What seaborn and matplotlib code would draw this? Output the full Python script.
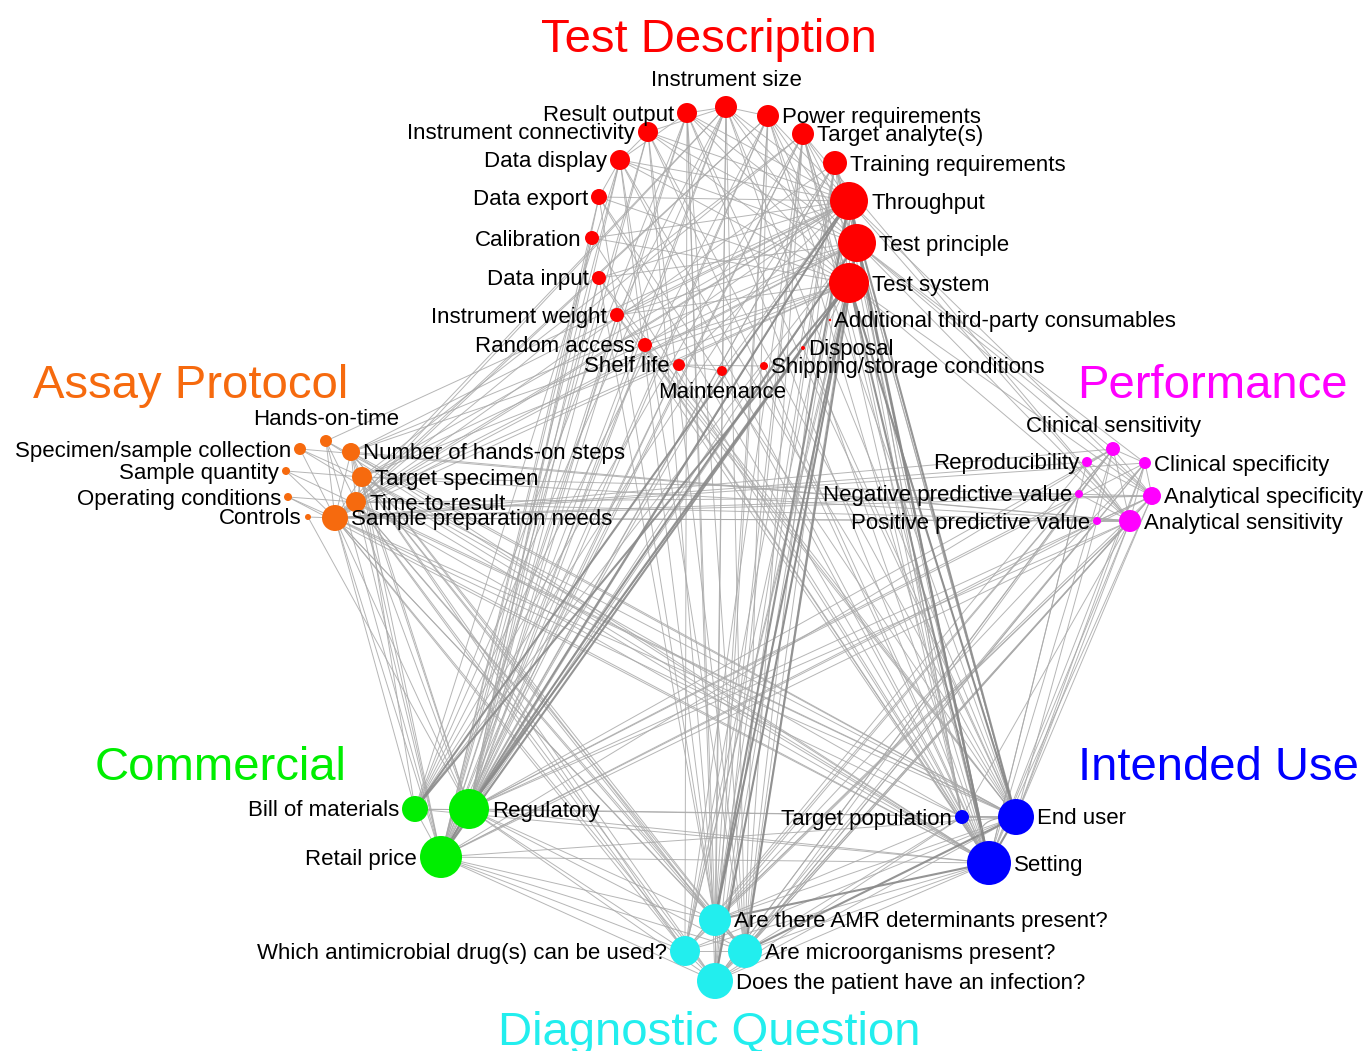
import numpy as np
import pandas as pd
import seaborn as sns
import matplotlib.pyplot as plt
from matplotlib.collections import LineCollection
from matplotlib.patches import FancyArrowPatch

# nodes of the feature network
node_ids = ["isz", "res", "pow", "con", "ana", "dis", "trn", "exp", "thr", "cal",
            "tpr", "inp", "tsy", "wgt", "add", "rnd", "dsp", "shl", "mnt", "shp",
            "hot", "col", "nhs", "sqt", "tsp", "opc", "ttr", "ctl", "spn",
            "csn", "rep", "csp", "npv", "asp", "ppv", "asn",
            "bom", "reg", "rtp",
            "tpo", "eus", "set",
            "amr", "drg", "mic", "inf"]
node_labels = ["Instrument size", "Result output", "Power requirements", "Instrument connectivity",
               "Target analyte(s)", "Data display", "Training requirements", "Data export",
               "Throughput", "Calibration", "Test principle", "Data input", "Test system",
               "Instrument weight", "Additional third-party consumables", "Random access",
               "Disposal", "Shelf life", "Maintenance", "Shipping/storage conditions",
               "Hands-on-time", "Specimen/sample collection", "Number of hands-on steps",
               "Sample quantity", "Target specimen", "Operating conditions", "Time-to-result",
               "Controls", "Sample preparation needs",
               "Clinical sensitivity", "Reproducibility", "Clinical specificity",
               "Negative predictive value", "Analytical specificity", "Positive predictive value",
               "Analytical sensitivity",
               "Bill of materials", "Regulatory", "Retail price",
               "Target population", "End user", "Setting",
               "Are there AMR determinants present?", "Which antimicrobial drug(s) can be used?",
               "Are microorganisms present?", "Does the patient have an infection?"]
node_groups = (["Test Description"] * 20 + ["Assay Protocol"] * 9 + ["Performance"] * 7
               + ["Commercial"] * 3 + ["Intended Use"] * 3 + ["Diagnostic Question"] * 4)

# layout of the network (image coordinates)
layout_x = [726, 687, 768, 648, 803, 620, 835, 599, 849, 592,
            857, 599, 849, 617, 830, 645, 803, 679, 722, 764,
            326, 300, 351, 286, 362, 288, 356, 308, 335,
            1113, 1087, 1145, 1079, 1152, 1097, 1130,
            415, 469, 441,
            962, 1016, 989,
            715, 685, 745, 715]
layout_y = [107, 113, 116, 132, 134, 160, 163, 197, 201, 238,
            243, 278, 283, 315, 320, 345, 348, 365, 371, 366,
            441, 449, 452, 471, 477, 497, 502, 517, 518,
            449, 462, 463, 494, 496, 521, 521,
            809, 809, 857,
            817, 817, 863,
            920, 951, 951, 981]
# node radius (degree based)
node_radius = [11, 10, 11, 10, 11, 10, 12, 8, 19, 7,
               19, 7, 20, 7, 1.2, 7, 2, 6, 5, 4,
               6, 6, 9, 4, 10, 4, 10, 3, 13,
               7, 5, 6, 4, 9, 4, 11,
               13, 20, 21,
               7, 18, 22,
               16, 15, 17, 18]
label_side = ["t", "l", "r", "l", "r", "l", "r", "l", "r", "l",
              "r", "l", "r", "l", "r", "l", "r", "l", "b", "r",
              "t", "l", "r", "l", "r", "l", "r", "l", "r",
              "t", "l", "r", "l", "r", "l", "r",
              "l", "r", "l",
              "l", "r", "r",
              "r", "l", "r", "r"]

groups = ["Test Description", "Assay Protocol", "Performance",
          "Commercial", "Intended Use", "Diagnostic Question"]
group_colors = ["#ff0000", "#f66a0e", "#ff00ff", "#00ee00", "#0000ff", "#22eeee"]
title_x = [709, 191, 1212, 221, 1218, 709]
title_y = [52, 398, 398, 780, 780, 1045]

# co-occurrence links
links = {
    "set": "thr tpr tsy isz pow ana trn res con dis exp cal inp wgt rnd shl mnt shp hot nhs tsp ttr spn col opc asn asp csn csp rep npv reg rtp bom amr drg mic inf eus tpo",
    "eus": "thr tpr tsy isz pow ana trn res con dis exp inp wgt rnd dsp hot nhs tsp ttr spn sqt asn asp csp ppv reg rtp bom amr drg mic inf tpo",
    "tpo": "thr tpr tsy ana trn amr mic inf spn tsp asn",
    "rtp": "thr tpr tsy isz pow ana trn res con dis exp cal inp wgt rnd shl mnt shp nhs tsp ttr spn hot asn asp csn ppv amr drg mic inf reg bom",
    "reg": "thr tpr tsy isz pow ana trn res con dis exp cal inp wgt rnd shl dsp nhs tsp ttr spn ctl asn asp csn csp npv amr drg mic inf bom",
    "bom": "thr tpr tsy pow isz ana trn spn tsp res dis",
    "amr": "thr tpr tsy ana isz pow trn res con dis inp exp spn tsp ttr nhs asn asp csn csp drg mic inf",
    "drg": "thr tpr tsy ana trn res spn tsp ttr asn csn rep mic inf",
    "mic": "thr tpr tsy ana isz pow trn res con dis spn tsp ttr nhs asn asp csn csp ppv inf",
    "inf": "thr tpr tsy ana isz pow trn res spn tsp ttr asn asp csn csp npv",
    "thr": "tpr tsy ana trn pow isz res con dis exp cal inp wgt rnd shl mnt hot nhs tsp ttr spn asn asp",
    "tpr": "tsy ana trn pow isz res con dis inp wgt spn tsp ttr nhs asn asp csn csp",
    "tsy": "ana trn pow isz res con dis exp cal wgt rnd spn tsp ttr nhs asn asp add",
    "spn": "tsp ttr nhs hot col sqt opc ctl asn asp csn csp rep npv ppv isz pow trn ana",
    "asn": "asp csn csp rep npv ppv tsp ttr nhs col ana",
    "asp": "csn csp rep ppv ttr tsp",
    "csn": "csp npv ppv rep",
    "ttr": "tsp nhs hot opc isz pow",
    "tsp": "nhs col sqt ana",
    "isz": "res pow wgt con",
    "dis": "exp con res",
    "shl": "shp mnt",
}
strong_links = [("reg", "thr"), ("reg", "tpr"), ("reg", "tsy"), ("bom", "tsy"), ("bom", "thr"),
                ("rtp", "tsy"), ("set", "thr"), ("set", "tpr"), ("set", "tsy"), ("eus", "thr"),
                ("eus", "tsy"), ("amr", "thr"), ("amr", "tsy"), ("mic", "tpr"), ("inf", "tsy"),
                ("set", "amr"), ("eus", "mic"), ("reg", "rtp"), ("set", "eus")]

nodes = pd.DataFrame({"id": node_ids, "label": node_labels, "group": node_groups,
                      "x": layout_x, "y": layout_y, "r": node_radius, "side": label_side})
nodes["area"] = (1.44 * nodes["r"]) ** 2
pos = nodes.set_index("id")[["x", "y"]]

sns.set_theme(style="white")
plt.rcParams["font.family"] = ["Liberation Sans", "DejaVu Sans"]

fig = plt.figure(figsize=(13.67, 10.51), dpi=100)
ax = fig.add_axes([0, 0, 1, 1])

weak, strong = [], []
strong_set = set(strong_links) | set((b, a) for a, b in strong_links)
for a, targets in links.items():
    for b in targets.split():
        seg = [(pos.loc[a, "x"], pos.loc[a, "y"]), (pos.loc[b, "x"], pos.loc[b, "y"])]
        (strong if (a, b) in strong_set else weak).append(seg)
ax.add_collection(LineCollection(weak, colors="#a9a9a9", linewidths=0.7, alpha=0.85, zorder=1))
ax.add_collection(LineCollection(strong, colors="#8a8a8a", linewidths=1.5, alpha=0.9, zorder=1))

# curved link between End user and Setting
ax.add_patch(FancyArrowPatch((pos.loc["eus", "x"], pos.loc["eus", "y"]),
                             (pos.loc["set", "x"], pos.loc["set", "y"]),
                             connectionstyle="arc3,rad=0.9", arrowstyle="-",
                             color="#a9a9a9", lw=0.8, zorder=1))

amin, amax = nodes["area"].min(), nodes["area"].max()
sns.scatterplot(data=nodes, x="x", y="y", hue="group", hue_order=groups,
                palette=dict(zip(groups, group_colors)), size="area",
                sizes=(amin, amax), size_norm=(amin, amax),
                linewidth=0, legend=False, ax=ax, zorder=3)

for _, n in nodes.iterrows():
    if n.side == "r":
        ax.text(n.x + n.r + 3, n.y + 2, n.label, ha="left", va="center", fontsize=16,
                color="black", zorder=4)
    elif n.side == "l":
        ax.text(n.x - n.r - 3, n.y + 2, n.label, ha="right", va="center", fontsize=16,
                color="black", zorder=4)
    elif n.side == "t":
        ax.text(n.x, n.y - n.r - 5, n.label, ha="center", va="bottom", fontsize=16,
                color="black", zorder=4)
    else:
        ax.text(n.x, n.y + n.r + 6, n.label, ha="center", va="top", fontsize=16,
                color="black", zorder=4)

for g, c, tx, ty in zip(groups, group_colors, title_x, title_y):
    ax.text(tx, ty, g, color=c, ha="center", va="baseline", fontsize=34, zorder=4)

ax.set_xlim(0, 1367)
ax.set_ylim(1051, 0)
ax.axis("off")
fig.savefig("out.png", dpi=100)
